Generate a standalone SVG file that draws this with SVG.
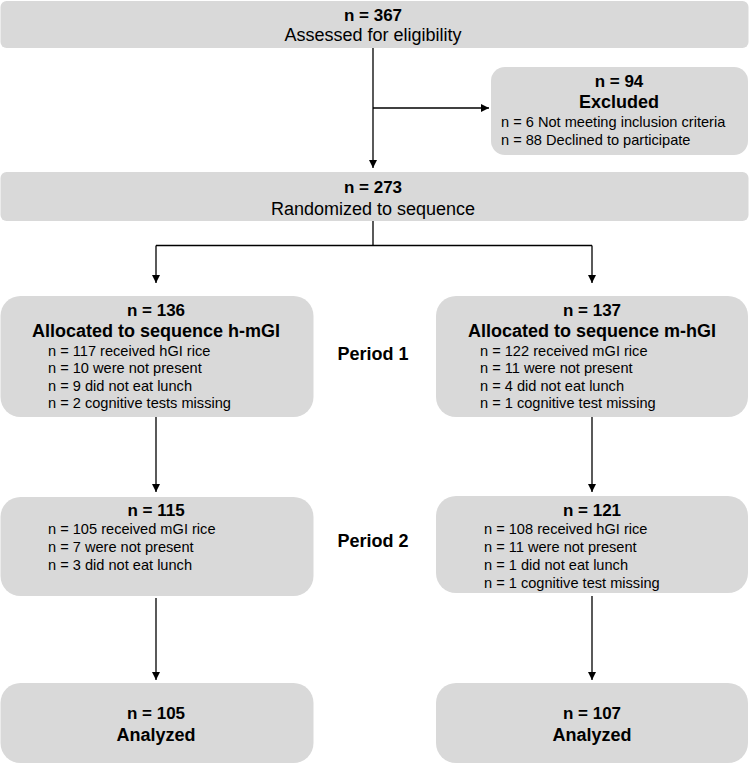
<svg xmlns="http://www.w3.org/2000/svg" width="749" height="764" viewBox="0 0 749 764">
<defs>
<style>
.box{fill:#d9d9d9;stroke:none}
text{font-family:"Liberation Sans",Arial,sans-serif;fill:#000}
.h{font-weight:bold;font-size:17px;text-anchor:middle}
.hb{font-weight:bold;font-size:18px;text-anchor:middle}
.r{font-size:18px;text-anchor:middle}
.l{font-size:14.6px}
.edge{stroke:#000;stroke-width:1.3;fill:none}
</style>
<marker id="arr" viewBox="0 0 10 10" refX="10" refY="5" markerWidth="8" markerHeight="8" markerUnits="userSpaceOnUse" orient="auto">
<path d="M0,0 L10,5 L0,10 z" fill="#000"/>
</marker>
</defs>
<rect width="749" height="764" fill="#fff"/>

<g id="connectors">
<path class="edge" d="M373,48 V168" marker-end="url(#arr)"/>
<path class="edge" d="M373,108 H489" marker-end="url(#arr)"/>
<path class="edge" d="M373,221 V245.5"/>
<path class="edge" d="M156,245.5 H592"/>
<path class="edge" d="M156,245.5 V283" marker-end="url(#arr)"/>
<path class="edge" d="M592,245.5 V283" marker-end="url(#arr)"/>
<path class="edge" d="M156,417 V492" marker-end="url(#arr)"/>
<path class="edge" d="M592,417 V492" marker-end="url(#arr)"/>
<path class="edge" d="M156,598 V680" marker-end="url(#arr)"/>
<path class="edge" d="M592,596 V680" marker-end="url(#arr)"/>
</g>

<g id="assessed">
<rect class="box" x="0.5" y="1" width="748" height="47" rx="6"/>
<text class="h" x="373" y="21">n = 367</text>
<text class="r" x="373" y="40.5">Assessed for eligibility</text>
</g>

<g id="excluded">
<rect class="box" x="491" y="67" width="257" height="88" rx="14"/>
<text class="h" x="619" y="87">n = 94</text>
<text class="hb" x="619" y="107.5">Excluded</text>
<text class="l" x="501" y="127">n = 6 Not meeting inclusion criteria</text>
<text class="l" x="501" y="145">n = 88 Declined to participate</text>
</g>

<g id="randomized">
<rect class="box" x="0.5" y="172" width="748" height="49" rx="6"/>
<text class="h" x="373" y="193">n = 273</text>
<text class="r" x="373" y="214.5">Randomized to sequence</text>
</g>

<g id="alloc-hmgi">
<rect class="box" x="0.5" y="296" width="313" height="121" rx="20"/>
<text class="h" x="156" y="316">n = 136</text>
<text class="hb" x="156" y="337">Allocated to sequence h-mGI</text>
<text class="l" x="48" y="355.5">n = 117 received hGI rice</text>
<text class="l" x="48" y="373">n = 10 were not present</text>
<text class="l" x="48" y="390.7">n = 9 did not eat lunch</text>
<text class="l" x="48" y="408.4">n = 2 cognitive tests missing</text>
</g>

<g id="period1">
<text class="hb" x="373" y="360">Period 1</text>
</g>

<g id="alloc-mhgi">
<rect class="box" x="436" y="296" width="312" height="121" rx="20"/>
<text class="h" x="592" y="316">n = 137</text>
<text class="hb" x="592" y="337">Allocated to sequence m-hGI</text>
<text class="l" x="480" y="355.5">n = 122 received mGI rice</text>
<text class="l" x="480" y="373">n = 11 were not present</text>
<text class="l" x="480" y="390.7">n = 4 did not eat lunch</text>
<text class="l" x="480" y="408.4">n = 1 cognitive test missing</text>
</g>

<g id="p2-left">
<rect class="box" x="0.5" y="497" width="313" height="99" rx="20"/>
<text class="h" x="156" y="516">n = 115</text>
<text class="l" x="48" y="534">n = 105 received mGI rice</text>
<text class="l" x="48" y="552">n = 7 were not present</text>
<text class="l" x="48" y="570">n = 3 did not eat lunch</text>
</g>

<g id="period2">
<text class="hb" x="373" y="547">Period 2</text>
</g>

<g id="p2-right">
<rect class="box" x="436" y="496" width="312" height="97" rx="20"/>
<text class="h" x="592" y="516">n = 121</text>
<text class="l" x="484" y="534">n = 108 received hGI rice</text>
<text class="l" x="484" y="552">n = 11 were not present</text>
<text class="l" x="484" y="570">n = 1 did not eat lunch</text>
<text class="l" x="484" y="588">n = 1 cognitive test missing</text>
</g>

<g id="analyzed-left">
<rect class="box" x="0.5" y="683" width="313" height="80" rx="20"/>
<text class="h" x="156" y="719">n = 105</text>
<text class="hb" x="156" y="740.5">Analyzed</text>
</g>

<g id="analyzed-right">
<rect class="box" x="436" y="683" width="312" height="80" rx="20"/>
<text class="h" x="592" y="719">n = 107</text>
<text class="hb" x="592" y="740.5">Analyzed</text>
</g>
</svg>
